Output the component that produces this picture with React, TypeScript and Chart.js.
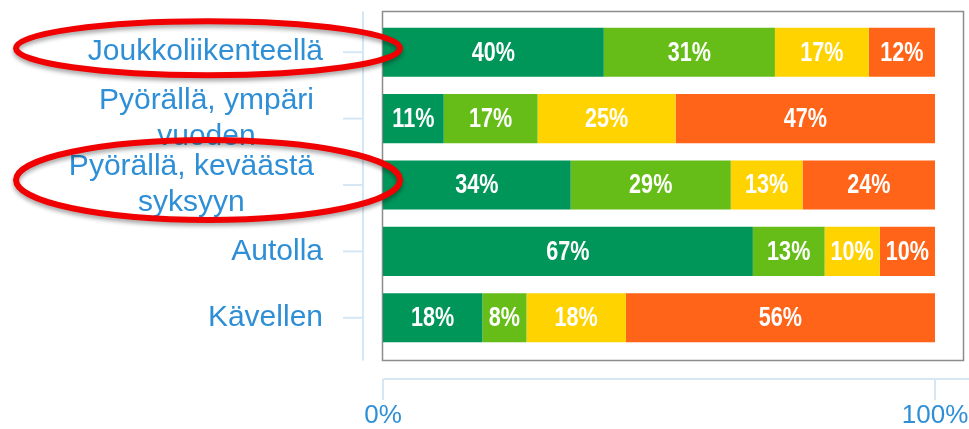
import React, { useEffect, useRef } from "react";
import { Chart, registerables } from "chart.js";

Chart.register(...registerables);

// ---- data ----
const categories: string[][] = [
  ["Joukkoliikenteellä"],
  ["Pyörällä, ympäri", "vuoden"],
  ["Pyörällä, keväästä", "syksyyn"],
  ["Autolla"],
  ["Kävellen"],
];
const series1 = [40, 11, 34, 67, 18];
const series2 = [31, 17, 29, 13, 8];
const series3 = [17, 25, 13, 10, 18];
const series4 = [12, 47, 24, 10, 56];
const xTicks = [0, 100];
const highlighted = [0, 2];

const seriesColors = ["#00965a", "#66bd17", "#ffd300", "#ff6419"];
const LABEL_BLUE = "#2e8fd6";
const AXIS_BLUE = "#d5e6f4";

const decorPlugin = {
  id: "decor",
  beforeDatasetsDraw(chart: any) {
    const { ctx, chartArea } = chart;
    const yScale = chart.scales.y;
    const boxL = chartArea.left - 0.5;
    const boxR = chartArea.right + 28.5;
    const boxT = chartArea.top - 7.5;
    const boxB = chartArea.bottom + 9.5;
    ctx.save();
    // plot box
    ctx.strokeStyle = "#8c8c8c";
    ctx.lineWidth = 1.5;
    ctx.strokeRect(boxL, boxT, boxR - boxL, boxB - boxT);
    // y axis line
    const axX = chartArea.left - 20;
    ctx.strokeStyle = AXIS_BLUE;
    ctx.lineWidth = 2;
    ctx.beginPath();
    ctx.moveTo(axX, boxT);
    ctx.lineTo(axX, boxB);
    ctx.stroke();
    // y tick marks + labels
    ctx.font = "30px 'Liberation Sans', Arial, sans-serif";
    ctx.fillStyle = LABEL_BLUE;
    ctx.textBaseline = "middle";
    const labelRight = chartArea.left - 60;
    categories.forEach((lines, i) => {
      const y = yScale.getPixelForValue(i);
      ctx.strokeStyle = AXIS_BLUE;
      ctx.beginPath();
      ctx.moveTo(axX - 20, y);
      ctx.lineTo(axX, y);
      ctx.stroke();
      if (lines.length === 1) {
        ctx.textAlign = "right";
        ctx.fillText(lines[0], labelRight, y);
      } else {
        const widest = Math.max(...lines.map((l) => ctx.measureText(l).width));
        const cx = labelRight - 9 - widest / 2;
        const lh = 36;
        ctx.textAlign = "center";
        lines.forEach((l, k) => {
          ctx.fillText(l, cx, y + (k - (lines.length - 1) / 2) * lh);
        });
      }
    });
    // x axis line + ticks
    const xScale = chart.scales.x;
    const axY = chartArea.bottom + 28;
    ctx.strokeStyle = AXIS_BLUE;
    ctx.beginPath();
    ctx.moveTo(xScale.getPixelForValue(0), axY);
    ctx.lineTo(chart.width, axY);
    ctx.stroke();
    xTicks.forEach((v) => {
      const x = xScale.getPixelForValue(v);
      ctx.beginPath();
      ctx.moveTo(x, axY);
      ctx.lineTo(x, axY + 21);
      ctx.stroke();
    });
    ctx.restore();
  },
  afterDatasetsDraw(chart: any) {
    const { ctx } = chart;
    ctx.save();
    ctx.font = "bold 27px 'Liberation Sans', Arial, sans-serif";
    ctx.fillStyle = "#ffffff";
    ctx.textAlign = "center";
    ctx.textBaseline = "middle";
    const sx = 0.8;
    chart.data.datasets.forEach((ds: any, di: number) => {
      const meta = chart.getDatasetMeta(di);
      meta.data.forEach((bar: any, i: number) => {
        const v = ds.data[i];
        const cx = (bar.x + bar.base) / 2;
        ctx.save();
        ctx.translate(cx, bar.y + 1);
        ctx.scale(sx, 1);
        ctx.fillText(v + "%", 0, 0);
        ctx.restore();
      });
    });
    ctx.restore();
  },
  afterDraw(chart: any) {
    const { ctx, chartArea } = chart;
    const yScale = chart.scales.y;
    ctx.save();
    ctx.strokeStyle = "#f00000";
    ctx.lineWidth = 6;
    ctx.shadowColor = "rgba(0,0,0,0.35)";
    ctx.shadowBlur = 4;
    ctx.shadowOffsetY = 3;
    highlighted.forEach((i) => {
      const y = yScale.getPixelForValue(i);
      const multi = categories[i].length > 1;
      const cx = chartArea.left - 175;
      const rx = 192;
      const ry = multi ? 40 : 27;
      const cy = y - (multi ? 5 : 4);
      ctx.beginPath();
      ctx.ellipse(cx, cy, rx, ry, 0, 0, Math.PI * 2);
      ctx.stroke();
    });
    ctx.restore();
  },
};

export default function App() {
  const ref = useRef<HTMLCanvasElement>(null);
  useEffect(() => {
    if (!ref.current) return;
    const mk = (label: string, data: number[], color: string) => ({
      label,
      data,
      backgroundColor: color,
      borderWidth: 0,
      categoryPercentage: 1,
      barPercentage: 0.74,
    });
    const chart = new Chart(ref.current, {
      type: "bar",
      data: {
        labels: categories,
        datasets: [
          mk("1", series1, seriesColors[0]),
          mk("2", series2, seriesColors[1]),
          mk("3", series3, seriesColors[2]),
          mk("4", series4, seriesColors[3]),
        ],
      },
      options: {
        indexAxis: "y",
        animation: false,
        responsive: false,
        layout: { padding: { left: 383, right: 34, top: 19, bottom: 0 } },
        plugins: { legend: { display: false }, tooltip: { enabled: false } },
        scales: {
          x: {
            type: "linear",
            stacked: true,
            min: 0,
            max: 100,
            position: "bottom",
            grid: { display: false },
            border: { display: false },
            afterFit: (s: any) => {
              s.height = 78;
              s.paddingLeft = 0;
              s.paddingRight = 0;
            },
            afterBuildTicks: (s: any) => {
              s.ticks = xTicks.map((v) => ({ value: v }));
            },
            ticks: {
              color: LABEL_BLUE,
              font: { size: 26, family: "'Liberation Sans', Arial, sans-serif" },
              padding: 41,
              maxRotation: 0,
              callback: (v: any) => v + "%",
            },
          },
          y: {
            type: "category",
            stacked: true,
            display: false,
          },
        },
      },
      plugins: [decorPlugin],
    } as any);
    return () => chart.destroy();
  }, []);
  return (
    <div style={{ position: "fixed", left: 0, top: 0, width: 969, height: 429, background: "#fff" }}>
      <canvas ref={ref} width={969} height={429} />
    </div>
  );
}
